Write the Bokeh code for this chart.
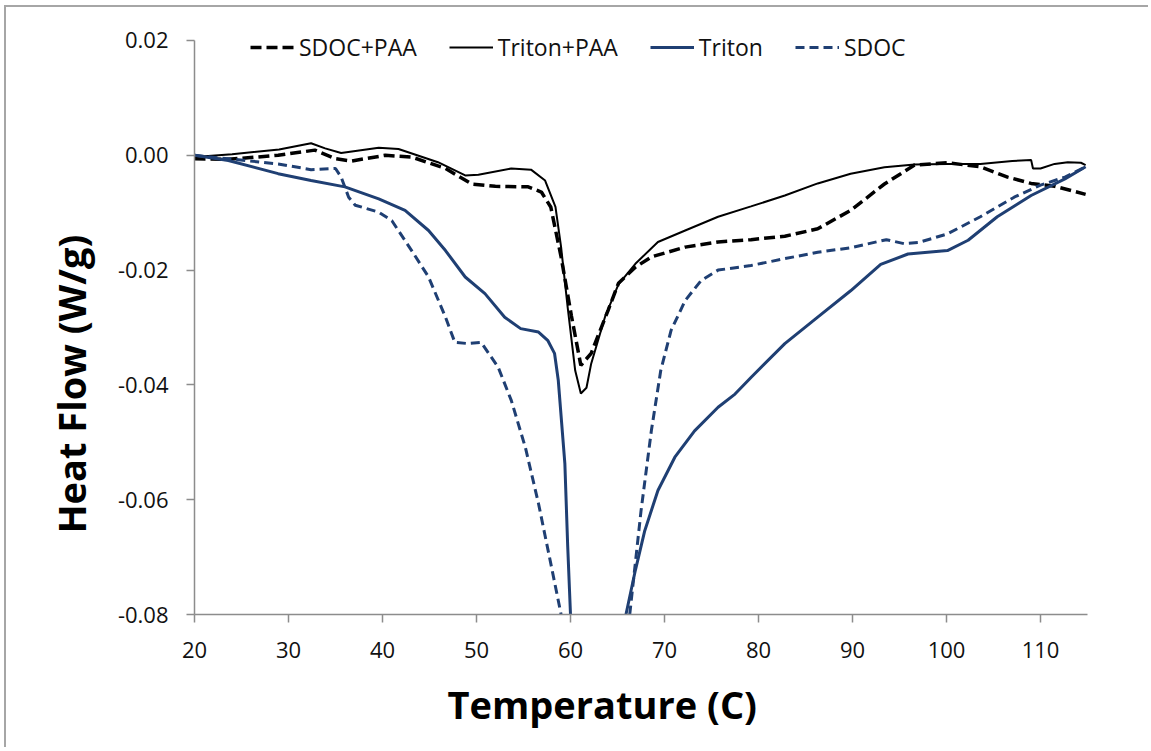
from bokeh.plotting import figure
from bokeh.models import Range1d, Legend, LegendItem, FixedTicker, PrintfTickFormatter, Title
from bokeh.embed import file_html
from bokeh.resources import INLINE

nan = float("nan")

# Triton+PAA (black solid)
tp_T = [20, 24, 29, 32.4, 33.9, 35.6, 39.6, 41.7, 45.9, 48.8, 50.2, 53.7, 55.8, 57.3, 58.4,
        59.0, 59.7, 60.5, 61.1, 61.7, 62.2, 63.7, 65.1, 66.9, 69.3, 72.2, 75.7, 79.2, 82.8, 86.3,
        89.8, 93.4, 96.6, 100.1, 103.6, 107.0, 109.0, 109.2, 110.0, 111.5, 112.9, 114.3, 114.8]
tp_Q = [-0.0003, 0.0002, 0.0010, 0.0021, 0.0012, 0.0004, 0.0013, 0.0011, -0.0012, -0.0035,
        -0.0034, -0.0023, -0.0025, -0.0044, -0.0090, -0.0160, -0.0265, -0.0375, -0.0415,
        -0.0405, -0.0363, -0.0280, -0.0225, -0.0189, -0.0151, -0.0131, -0.0107, -0.0089, -0.0070,
        -0.0049, -0.0032, -0.0021, -0.0016, -0.0015, -0.0015, -0.0010, -0.0008, -0.0023,
        -0.0023, -0.0015, -0.0012, -0.0013, -0.0017]

# SDOC+PAA (black dashed)
sp_T = [20, 23.6, 28.9, 32.8, 35.0, 36.7, 40.3, 43.1, 46.7, 49.5, 52.0, 55.5, 56.9, 57.9,
        59.0, 60.1, 61.1, 62.2, 64.0, 65.1, 66.9, 68.6, 72.2, 75.7, 79.2, 82.8, 86.3, 89.8,
        93.4, 96.6, 100.1, 103.6, 106.5, 109.0, 111.5, 114.8]
sp_Q = [-0.0006, -0.0007, 0.0000, 0.0009, -0.0006, -0.0010, 0.0000, -0.0003, -0.0023,
        -0.0050, -0.0054, -0.0055, -0.0064, -0.0090, -0.0177, -0.0280, -0.0366, -0.0345,
        -0.0270, -0.0223, -0.0195, -0.0177, -0.0160, -0.0151, -0.0147, -0.0141, -0.0128,
        -0.0096, -0.0050, -0.0017, -0.0013, -0.0020, -0.0038, -0.0049, -0.0054, -0.0068]

# Triton (blue solid)
t_T = [20, 23.6, 28.9, 32.4, 36.0, 39.6, 42.4, 44.9, 46.7, 48.8, 50.9, 53.0, 54.7, 56.6,
       57.6, 58.3, 58.7, 59.4, 59.7, 60.0, nan, 65.9, 66.9, 67.9, 69.3, 71.1, 73.2, 75.7, 77.5,
       79.2, 82.8, 86.3, 89.8, 93.0, 95.9, 100.1, 102.3, 105.4, 109.0, 112.6, 114.8]
t_Q = [0.0000, -0.0009, -0.0032, -0.0044, -0.0055, -0.0076, -0.0096, -0.0131, -0.0166,
       -0.0212, -0.0241, -0.0282, -0.0302, -0.0308, -0.0323, -0.0345, -0.0392, -0.0537, -0.0680,
       -0.0800, nan, -0.0800, -0.0723, -0.0654, -0.0584, -0.0526, -0.0480, -0.0439, -0.0416,
       -0.0387, -0.0328, -0.0282, -0.0236, -0.0190, -0.0172, -0.0166, -0.0148, -0.0107,
       -0.0070, -0.0041, -0.0020]

# SDOC (blue dashed)
s_T = [20, 23.6, 28.9, 32.4, 35.0, 35.6, 36.4, 37.1, 39.6, 41.0, 43.1, 44.9, 46.7, 47.7,
       49.1, 50.5, 52.3, 53.7, 55.2, 56.6, 57.9, 59.0, nan, 66.3, 67.5, 68.6, 69.6, 70.7,
       72.2, 73.9, 75.7, 79.2, 82.8, 86.3, 89.8, 93.6, 95.5, 97.0, 100.1, 103.6, 107.2,
       110.0, 112.6, 114.8]
s_Q = [0.0000, -0.0006, -0.0015, -0.0025, -0.0023, -0.0038, -0.0073, -0.0087, -0.0099,
       -0.0114, -0.0166, -0.0212, -0.0282, -0.0326, -0.0328, -0.0326, -0.0369, -0.0427,
       -0.0509, -0.0607, -0.0711, -0.0800, nan, -0.0800, -0.0620, -0.0480, -0.0375, -0.0305,
       -0.0253, -0.0218, -0.0200, -0.0192, -0.0180, -0.0169, -0.0161, -0.0147, -0.0154,
       -0.0152, -0.0137, -0.0107, -0.0073, -0.0052, -0.0038, -0.0020]

x_ticks = [20, 30, 40, 50, 60, 70, 80, 90, 100, 110]
y_ticks = [-0.08, -0.06, -0.04, -0.02, 0.00, 0.02]

NAVY = "#1F3F73"
FONT = "Open Sans"

# frame extends 10 px above the 0.02 tick so the legend row is not clipped
p = figure(width=1144, height=742, output_backend="svg", toolbar_location=None,
           x_range=Range1d(20, 115), y_range=Range1d(-0.08, 0.021742),
           min_border_left=188, min_border_right=63, min_border_top=23, min_border_bottom=135)
p.styles = {"border-left": "2px solid #a6a6a6", "border-top": "2px solid #a6a6a6",
            "margin-left": "4px", "margin-top": "5px"}
p.outline_line_color = None
p.xgrid.visible = False
p.ygrid.visible = False
p.background_fill_color = "white"
p.border_fill_color = "white"

r_sp = p.line(sp_T, sp_Q, line_color="black", line_width=3.5, line_dash="11 5")
r_tp = p.line(tp_T, tp_Q, line_color="black", line_width=2)
r_t = p.line(t_T, t_Q, line_color=NAVY, line_width=3)
r_s = p.line(s_T, s_Q, line_color=NAVY, line_width=3, line_dash="9 5")

for ax in (p.xaxis[0], p.yaxis[0]):
    ax.axis_line_color = "#8c8c8c"
    ax.axis_line_width = 1.5
    ax.major_tick_line_color = "#8c8c8c"
    ax.major_tick_line_width = 1.5
    ax.major_tick_in = 0
    ax.major_tick_out = 8
    ax.minor_tick_line_color = None
    ax.major_label_text_font = FONT
    ax.major_label_text_font_size = "22px"
    ax.major_label_text_color = "#111111"

p.yaxis[0].bounds = (-0.08, 0.02)
p.xaxis.ticker = FixedTicker(ticks=x_ticks)
p.yaxis.ticker = FixedTicker(ticks=y_ticks)
p.yaxis.formatter = PrintfTickFormatter(format="%.2f")
p.xaxis.major_label_standoff = 19
p.yaxis.major_label_standoff = 18

x_title = Title(text="Temperature (C)", align="left", offset=253, standoff=30,
                text_font=FONT, text_font_style="bold", text_font_size="38px",
                text_color="black")
y_title = Title(text="Heat Flow (W/g)", align="left", offset=81, standoff=36,
                text_font=FONT, text_font_style="bold", text_font_size="38px",
                text_color="black")
p.add_layout(x_title, "below")
p.add_layout(y_title, "left")

legend = Legend(items=[LegendItem(label="SDOC+PAA", renderers=[r_sp]),
                       LegendItem(label="Triton+PAA", renderers=[r_tp]),
                       LegendItem(label="Triton", renderers=[r_t]),
                       LegendItem(label="SDOC", renderers=[r_s])],
                orientation="horizontal", location=(56, 551),
                border_line_alpha=0, background_fill_alpha=0,
                label_text_font=FONT, label_text_font_size="23px",
                label_text_color="#111111",
                glyph_width=44, glyph_height=20, label_standoff=5, spacing=32,
                padding=0, margin=0)
p.add_layout(legend)

open("out.html", "w").write(file_html(p, INLINE))
